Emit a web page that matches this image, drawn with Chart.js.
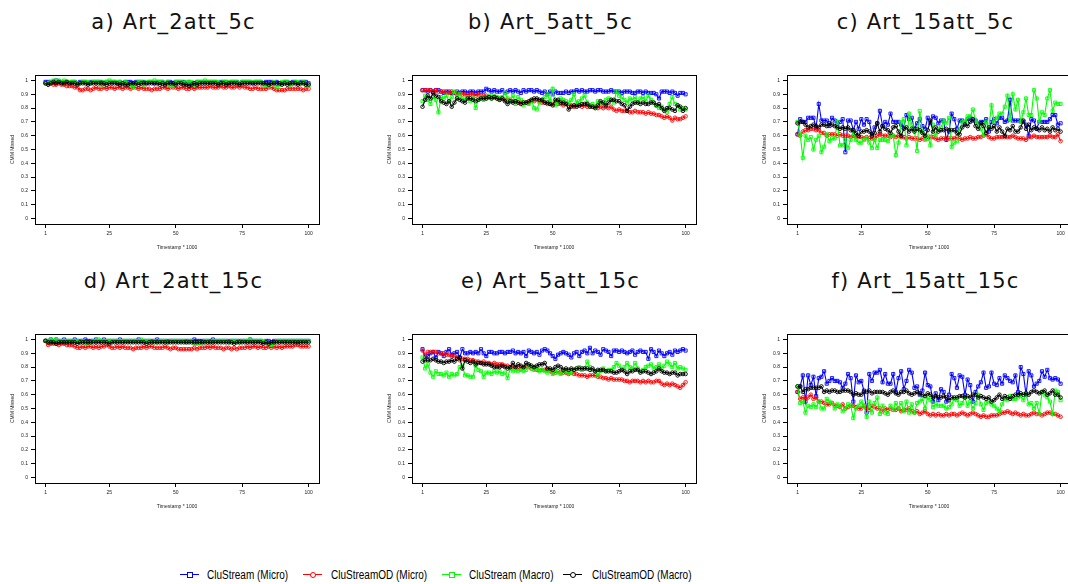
<!DOCTYPE html>
<html>
<head>
<meta charset="utf-8">
<title>CMM Missed</title>
<script src="https://cdn.jsdelivr.net/npm/chart.js@4.4.1/dist/chart.umd.min.js"></script>
<style>
  html, body { margin: 0; padding: 0; background: #fff; }
  body { width: 1068px; height: 584px; position: relative; overflow: hidden; }
  .panel-title {
    position: absolute; width: 300px; margin-left: -150px; text-align: center;
    font-family: "DejaVu Sans", sans-serif; font-size: 21px; line-height: 24px;
    letter-spacing: 1.2px; color: #111; white-space: nowrap;
  }
  .legend-sym { position: absolute; top: 574px; height: 1px; }
  .legend-mark { position: absolute; left: 50%; top: -2px; width: 4px; height: 4px; margin-left: -3px; border: 1px solid; background: #fff; }
  .legend-text {
    position: absolute; top: 567px; font-family: "Liberation Sans", Arial, sans-serif;
    font-size: 12.5px; line-height: 16px; color: #000; white-space: nowrap;
    transform: scaleX(0.8); transform-origin: left center;
  }
</style>
</head>
<body>
<script>
// x axis: Timestamp * 1000
const timestamps = Array.from({ length: 100 }, (_, i) => i + 1);
const xTicks = [1, 25, 50, 75, 100];
const yTicks = [0, 0.1, 0.2, 0.3, 0.4, 0.5, 0.6, 0.7, 0.8, 0.9, 1];

const seriesNames = ['CluStream (Micro)', 'CluStreamOD (Micro)', 'CluStream (Macro)', 'CluStreamOD (Macro)'];

// a) Art_2att_5c
const blueA = [0.99,0.99,0.99,0.99,1.00,0.99,0.99,0.99,0.99,0.98, 0.99,0.99,0.98,0.99,0.99,0.99,0.98,0.99,0.99,0.99, 0.99,0.99,0.98,0.99,0.99,0.99,0.99,0.98,0.99,0.98, 0.99,0.99,0.99,0.98,0.99,0.99,0.99,0.99,0.98,0.99, 0.99,0.98,0.99,0.99,0.99,0.98,0.99,0.99,0.98,0.99, 0.99,0.99,0.99,0.98,0.99,0.98,0.98,0.99,0.99,0.99, 0.99,0.99,0.99,0.99,0.99,0.98,0.99,0.99,0.99,0.98, 0.99,0.99,0.99,0.98,0.99,0.99,0.99,0.99,0.98,0.99, 0.99,0.99,0.98,0.99,0.99,0.99,0.98,0.99,0.98,0.98, 0.99,0.99,0.98,0.99,0.99,0.98,0.99,0.99,0.99,0.98];
const redA = [0.98,0.97,0.98,0.97,0.97,0.98,0.97,0.97,0.96,0.96, 0.96,0.95,0.95,0.93,0.93,0.94,0.94,0.93,0.94,0.95, 0.94,0.94,0.95,0.94,0.95,0.95,0.94,0.95,0.95,0.94, 0.95,0.95,0.94,0.95,0.95,0.94,0.95,0.94,0.94,0.94, 0.93,0.94,0.94,0.94,0.95,0.95,0.94,0.95,0.95,0.95, 0.94,0.95,0.95,0.94,0.94,0.95,0.94,0.95,0.95,0.95, 0.95,0.95,0.96,0.95,0.95,0.95,0.96,0.95,0.95,0.96, 0.95,0.95,0.96,0.95,0.96,0.95,0.95,0.94,0.94,0.95, 0.94,0.94,0.94,0.94,0.95,0.95,0.94,0.93,0.93,0.93, 0.93,0.94,0.94,0.94,0.94,0.94,0.94,0.93,0.94,0.94];
const greenA = [0.98,0.98,0.99,1.00,0.99,1.00,0.99,1.00,0.99,0.99, 0.99,0.99,0.98,0.98,0.99,0.99,0.99,0.98,0.99,0.99, 0.99,0.96,0.99,0.99,1.00,0.99,0.99,0.99,0.99,0.98, 0.99,0.98,0.97,0.95,0.98,0.99,0.99,0.97,0.99,0.99, 0.99,1.00,0.99,0.99,0.99,0.98,0.99,0.96,0.96,0.99, 0.99,0.99,0.98,0.99,0.99,0.99,0.97,0.99,0.99,0.99, 1.00,0.99,0.99,0.99,0.99,0.99,0.98,0.99,0.99,0.99, 0.99,0.99,0.99,0.98,0.99,0.99,0.99,0.99,0.99,0.99, 0.99,0.99,0.96,0.97,0.96,0.98,0.99,0.95,0.97,0.99, 0.99,0.99,0.97,0.98,0.99,0.99,0.98,0.99,0.97,0.96];
const blackA = [0.98,0.97,0.98,0.99,0.98,0.99,0.98,0.98,0.99,0.98, 0.98,0.98,0.97,0.98,0.98,0.98,0.97,0.98,0.98,0.98, 0.98,0.98,0.98,0.97,0.98,0.98,0.98,0.98,0.97,0.98, 0.97,0.97,0.98,0.98,0.98,0.97,0.98,0.98,0.98,0.98, 0.98,0.98,0.98,0.97,0.98,0.97,0.98,0.98,0.98,0.97, 0.98,0.98,0.97,0.97,0.96,0.97,0.98,0.97,0.98,0.98, 0.98,0.98,0.98,0.98,0.98,0.97,0.98,0.98,0.97,0.98, 0.98,0.98,0.98,0.97,0.98,0.98,0.98,0.98,0.98,0.98, 0.98,0.98,0.98,0.98,0.97,0.98,0.98,0.98,0.98,0.97, 0.98,0.97,0.98,0.98,0.98,0.97,0.98,0.98,0.97,0.97];

// b) Art_5att_5c
const blueB = [0.93,0.93,0.92,0.93,0.92,0.93,0.93,0.92,0.91,0.92, 0.92,0.91,0.91,0.92,0.91,0.92,0.92,0.91,0.92,0.92, 0.91,0.92,0.92,0.92,0.94,0.93,0.92,0.93,0.92,0.92, 0.93,0.91,0.92,0.93,0.92,0.93,0.92,0.91,0.93,0.92, 0.93,0.93,0.92,0.93,0.92,0.91,0.92,0.90,0.92,0.90, 0.92,0.91,0.91,0.91,0.92,0.91,0.92,0.92,0.93,0.92, 0.93,0.92,0.92,0.93,0.93,0.92,0.93,0.93,0.92,0.92, 0.92,0.93,0.92,0.92,0.92,0.91,0.92,0.92,0.92,0.91, 0.91,0.92,0.92,0.91,0.92,0.91,0.91,0.91,0.90,0.87, 0.92,0.92,0.92,0.91,0.92,0.91,0.89,0.91,0.91,0.90];
const redB = [0.93,0.93,0.93,0.93,0.92,0.93,0.92,0.92,0.92,0.91, 0.91,0.92,0.91,0.90,0.91,0.90,0.90,0.89,0.90,0.90, 0.89,0.90,0.89,0.89,0.89,0.88,0.88,0.88,0.87,0.87, 0.87,0.86,0.86,0.86,0.85,0.85,0.84,0.84,0.84,0.84, 0.84,0.85,0.85,0.86,0.85,0.84,0.84,0.83,0.83,0.83, 0.84,0.83,0.83,0.82,0.83,0.82,0.82,0.81,0.82,0.82, 0.81,0.82,0.81,0.82,0.81,0.81,0.80,0.81,0.80,0.81, 0.80,0.81,0.79,0.78,0.79,0.78,0.78,0.78,0.77,0.77, 0.78,0.77,0.77,0.77,0.76,0.77,0.76,0.76,0.75,0.75, 0.74,0.73,0.74,0.73,0.71,0.73,0.72,0.72,0.73,0.74];
const greenB = [0.85,0.89,0.86,0.83,0.88,0.86,0.77,0.88,0.87,0.89, 0.85,0.88,0.92,0.88,0.90,0.87,0.86,0.88,0.85,0.87, 0.80,0.86,0.88,0.86,0.87,0.89,0.87,0.89,0.88,0.86, 0.88,0.91,0.87,0.85,0.89,0.83,0.88,0.86,0.82,0.84, 0.83,0.86,0.80,0.79,0.84,0.86,0.88,0.90,0.85,0.94, 0.82,0.84,0.87,0.86,0.85,0.84,0.86,0.90,0.84,0.85, 0.87,0.89,0.84,0.82,0.83,0.81,0.85,0.84,0.83,0.86, 0.87,0.86,0.84,0.92,0.89,0.88,0.86,0.84,0.87,0.86, 0.88,0.84,0.87,0.88,0.85,0.89,0.86,0.84,0.82,0.80, 0.81,0.79,0.77,0.83,0.88,0.83,0.82,0.79,0.80,0.79];
const blackB = [0.81,0.86,0.89,0.87,0.91,0.89,0.88,0.85,0.84,0.83, 0.85,0.81,0.84,0.87,0.86,0.85,0.84,0.87,0.87,0.86, 0.85,0.86,0.87,0.87,0.87,0.88,0.87,0.88,0.87,0.86, 0.87,0.85,0.83,0.85,0.84,0.85,0.84,0.83,0.84,0.84, 0.85,0.86,0.87,0.87,0.86,0.86,0.84,0.84,0.83,0.82, 0.86,0.86,0.84,0.84,0.83,0.79,0.81,0.82,0.81,0.82, 0.83,0.83,0.83,0.81,0.81,0.80,0.82,0.85,0.84,0.82, 0.84,0.86,0.86,0.85,0.85,0.83,0.82,0.78,0.81,0.83, 0.84,0.84,0.83,0.84,0.83,0.83,0.84,0.84,0.82,0.83, 0.80,0.78,0.80,0.80,0.79,0.78,0.82,0.81,0.78,0.80];

// c) Art_15att_5c
const blueC = [0.61,0.72,0.70,0.70,0.73,0.73,0.73,0.66,0.83,0.71, 0.71,0.71,0.67,0.73,0.71,0.68,0.70,0.72,0.48,0.71, 0.71,0.64,0.70,0.65,0.72,0.68,0.72,0.70,0.61,0.66, 0.69,0.78,0.67,0.70,0.68,0.76,0.70,0.70,0.70,0.68, 0.66,0.75,0.72,0.73,0.65,0.69,0.72,0.67,0.65,0.73, 0.69,0.74,0.73,0.69,0.71,0.71,0.57,0.63,0.76,0.72, 0.65,0.71,0.71,0.69,0.72,0.73,0.71,0.71,0.69,0.70, 0.70,0.72,0.63,0.70,0.72,0.69,0.73,0.73,0.70,0.71, 0.86,0.71,0.71,0.71,0.71,0.70,0.68,0.60,0.72,0.71, 0.65,0.70,0.70,0.70,0.70,0.72,0.75,0.75,0.68,0.69];
const redC = [0.61,0.60,0.63,0.64,0.64,0.65,0.65,0.64,0.64,0.62, 0.62,0.60,0.61,0.61,0.61,0.60,0.61,0.60,0.60,0.60, 0.59,0.60,0.59,0.59,0.59,0.58,0.59,0.58,0.58,0.58, 0.60,0.61,0.60,0.60,0.60,0.59,0.60,0.59,0.60,0.59, 0.59,0.58,0.59,0.58,0.58,0.58,0.57,0.58,0.58,0.58, 0.59,0.59,0.58,0.57,0.58,0.58,0.58,0.58,0.58,0.58, 0.59,0.58,0.57,0.58,0.58,0.59,0.58,0.58,0.59,0.59, 0.60,0.61,0.59,0.58,0.58,0.59,0.59,0.59,0.59,0.59, 0.59,0.60,0.59,0.58,0.58,0.58,0.57,0.59,0.59,0.60, 0.59,0.59,0.59,0.59,0.59,0.60,0.59,0.59,0.61,0.56];
const greenC = [0.70,0.61,0.44,0.60,0.57,0.59,0.50,0.57,0.60,0.48, 0.52,0.61,0.56,0.58,0.58,0.70,0.53,0.53,0.57,0.51, 0.57,0.63,0.57,0.55,0.55,0.57,0.58,0.55,0.51,0.57, 0.51,0.57,0.57,0.57,0.56,0.60,0.60,0.46,0.55,0.70, 0.72,0.53,0.76,0.68,0.64,0.49,0.78,0.63,0.57,0.60, 0.53,0.68,0.60,0.65,0.66,0.71,0.69,0.73,0.52,0.55, 0.56,0.65,0.70,0.70,0.74,0.74,0.79,0.71,0.69,0.65, 0.60,0.70,0.66,0.82,0.70,0.73,0.76,0.76,0.81,0.89, 0.72,0.90,0.79,0.86,0.70,0.77,0.87,0.75,0.75,0.93, 0.87,0.70,0.77,0.75,0.87,0.93,0.78,0.84,0.83,0.83];
const blackC = [0.69,0.70,0.70,0.68,0.66,0.67,0.68,0.67,0.66,0.68, 0.68,0.67,0.69,0.68,0.67,0.66,0.65,0.66,0.65,0.66, 0.64,0.64,0.62,0.60,0.63,0.63,0.64,0.63,0.60,0.62, 0.69,0.63,0.67,0.65,0.64,0.62,0.66,0.67,0.63,0.60, 0.65,0.66,0.63,0.65,0.63,0.65,0.64,0.62,0.60,0.64, 0.71,0.63,0.66,0.63,0.64,0.64,0.65,0.64,0.64,0.64, 0.62,0.61,0.66,0.68,0.67,0.70,0.72,0.67,0.65,0.69, 0.67,0.62,0.66,0.65,0.67,0.63,0.66,0.63,0.60,0.65, 0.64,0.67,0.63,0.63,0.66,0.71,0.65,0.68,0.64,0.66, 0.65,0.64,0.66,0.64,0.65,0.63,0.66,0.64,0.65,0.63];

// d) Art_2att_15c
const blueD = [0.99,0.99,1.00,0.99,1.00,0.99,0.99,1.00,0.99,0.99, 0.99,1.00,0.99,0.99,0.99,1.00,0.99,0.99,0.99,1.00, 0.99,0.99,1.00,0.99,0.99,0.99,0.99,0.99,1.00,0.99, 0.99,0.99,0.99,0.99,0.99,1.00,0.99,0.99,0.99,0.99, 0.99,0.99,1.00,0.99,0.99,0.99,0.99,0.99,0.99,0.99, 0.99,0.99,0.99,0.99,0.99,0.99,1.00,0.99,0.99,0.99, 0.99,0.99,0.99,1.00,0.99,0.99,0.99,0.99,0.99,0.99, 0.99,0.99,0.99,0.99,0.99,0.99,0.99,1.00,0.99,0.99, 0.99,0.99,0.98,0.99,0.99,0.98,0.99,0.99,0.99,0.99, 0.99,0.99,0.99,0.99,0.99,0.99,0.99,0.99,0.99,0.99];
const redD = [0.99,0.96,0.97,0.97,0.97,0.96,0.97,0.97,0.96,0.96, 0.96,0.95,0.94,0.94,0.95,0.94,0.95,0.95,0.94,0.95, 0.94,0.95,0.95,0.96,0.95,0.94,0.94,0.95,0.94,0.95, 0.94,0.94,0.94,0.93,0.94,0.94,0.94,0.95,0.94,0.95, 0.95,0.94,0.94,0.94,0.94,0.95,0.94,0.93,0.94,0.94, 0.93,0.93,0.93,0.93,0.93,0.93,0.94,0.93,0.94,0.94, 0.94,0.95,0.94,0.95,0.94,0.94,0.94,0.93,0.94,0.94, 0.93,0.94,0.93,0.94,0.94,0.94,0.95,0.94,0.95,0.95, 0.94,0.95,0.94,0.94,0.95,0.94,0.95,0.94,0.95,0.94, 0.95,0.95,0.95,0.95,0.96,0.96,0.95,0.95,0.95,0.95];
const greenD = [0.99,0.99,1.00,0.99,1.00,0.99,0.99,0.99,0.99,0.99, 0.99,0.99,0.99,0.98,0.99,0.98,0.97,0.98,0.99,0.99, 1.00,0.99,0.99,0.99,0.99,0.99,0.99,0.99,0.99,0.99, 0.99,0.99,0.99,0.99,0.99,0.99,1.00,0.99,0.99,0.99, 0.98,0.99,0.98,0.99,0.99,0.99,0.98,0.99,0.99,0.99, 0.99,0.99,0.99,0.98,0.99,0.99,0.97,0.97,0.98,0.97, 0.99,0.99,0.98,0.99,0.99,0.99,0.99,0.99,0.99,0.98, 0.99,0.99,0.99,0.98,0.99,0.99,0.99,1.00,0.99,0.99, 0.99,0.99,0.99,0.98,0.97,0.96,0.97,0.99,0.99,0.99, 0.99,0.99,0.99,0.99,0.99,0.99,0.99,0.99,0.99,0.99];
const blackD = [0.99,0.98,0.98,0.98,0.97,0.98,0.98,0.98,0.98,0.98, 0.98,0.98,0.97,0.98,0.98,0.98,0.98,0.98,0.98,0.98, 0.98,0.98,0.98,0.98,0.97,0.98,0.98,0.98,0.98,0.98, 0.98,0.98,0.98,0.98,0.98,0.98,0.98,0.98,0.97,0.98, 0.98,0.98,0.98,0.98,0.98,0.98,0.98,0.98,0.98,0.98, 0.98,0.98,0.98,0.98,0.98,0.98,0.98,0.98,0.98,0.98, 0.98,0.98,0.98,0.98,0.98,0.98,0.98,0.98,0.98,0.98, 0.98,0.97,0.98,0.98,0.98,0.98,0.98,0.98,0.98,0.98, 0.98,0.98,0.97,0.98,0.97,0.98,0.98,0.98,0.98,0.98, 0.98,0.98,0.98,0.98,0.98,0.98,0.98,0.98,0.98,0.98];

// e) Art_5att_15c
const blueE = [0.93,0.87,0.88,0.90,0.91,0.87,0.91,0.90,0.88,0.91, 0.93,0.89,0.90,0.91,0.87,0.93,0.90,0.90,0.91,0.90, 0.91,0.90,0.93,0.90,0.88,0.91,0.91,0.90,0.90,0.91, 0.91,0.90,0.91,0.91,0.92,0.90,0.91,0.90,0.91,0.88, 0.92,0.91,0.90,0.91,0.89,0.92,0.93,0.92,0.90,0.88, 0.86,0.89,0.90,0.91,0.90,0.89,0.87,0.90,0.91,0.88, 0.91,0.92,0.90,0.94,0.90,0.92,0.91,0.89,0.93,0.92, 0.91,0.88,0.92,0.92,0.91,0.92,0.91,0.90,0.91,0.92, 0.89,0.91,0.92,0.91,0.91,0.86,0.93,0.91,0.88,0.92, 0.90,0.88,0.90,0.91,0.89,0.92,0.91,0.92,0.93,0.92];
const redE = [0.92,0.89,0.91,0.91,0.91,0.91,0.90,0.90,0.90,0.89, 0.89,0.88,0.88,0.87,0.85,0.86,0.86,0.86,0.85,0.85, 0.84,0.84,0.83,0.84,0.83,0.83,0.82,0.83,0.82,0.82, 0.82,0.81,0.81,0.80,0.80,0.80,0.79,0.79,0.80,0.80, 0.80,0.79,0.79,0.78,0.78,0.78,0.78,0.78,0.77,0.76, 0.76,0.77,0.76,0.76,0.76,0.75,0.76,0.75,0.75,0.74, 0.74,0.74,0.73,0.74,0.74,0.74,0.73,0.73,0.72,0.72, 0.71,0.72,0.71,0.71,0.71,0.71,0.70,0.70,0.69,0.70, 0.70,0.70,0.69,0.70,0.69,0.70,0.69,0.69,0.70,0.70, 0.68,0.67,0.68,0.67,0.68,0.67,0.66,0.65,0.67,0.69];
const greenE = [0.87,0.79,0.82,0.76,0.73,0.77,0.75,0.75,0.74,0.76, 0.73,0.75,0.74,0.75,0.80,0.81,0.74,0.74,0.73,0.73, 0.81,0.78,0.77,0.73,0.76,0.76,0.75,0.77,0.76,0.77, 0.75,0.76,0.72,0.79,0.77,0.78,0.77,0.78,0.77,0.78, 0.81,0.79,0.78,0.79,0.77,0.78,0.77,0.76,0.78,0.75, 0.78,0.76,0.75,0.78,0.77,0.76,0.76,0.78,0.79,0.80, 0.78,0.79,0.84,0.80,0.78,0.77,0.74,0.77,0.79,0.77, 0.78,0.78,0.80,0.83,0.81,0.78,0.80,0.83,0.80,0.79, 0.83,0.79,0.77,0.78,0.80,0.81,0.82,0.79,0.80,0.82, 0.79,0.81,0.84,0.82,0.80,0.83,0.79,0.80,0.79,0.78];
const blackE = [0.84,0.85,0.85,0.85,0.86,0.85,0.84,0.84,0.83,0.84, 0.84,0.85,0.84,0.86,0.87,0.79,0.85,0.84,0.83,0.84, 0.82,0.83,0.83,0.82,0.82,0.82,0.81,0.80,0.80,0.80, 0.81,0.80,0.79,0.80,0.83,0.80,0.82,0.81,0.80,0.83, 0.82,0.81,0.80,0.81,0.82,0.82,0.83,0.79,0.79,0.78, 0.80,0.81,0.80,0.78,0.79,0.78,0.79,0.78,0.79,0.79, 0.79,0.79,0.79,0.78,0.79,0.77,0.78,0.78,0.78,0.77, 0.77,0.77,0.76,0.76,0.77,0.78,0.77,0.75,0.77,0.77, 0.78,0.78,0.76,0.77,0.77,0.76,0.75,0.76,0.77,0.79, 0.77,0.76,0.76,0.75,0.76,0.76,0.74,0.75,0.75,0.75];

// f) Art_15att_15c
const blueF = [0.62,0.66,0.74,0.55,0.74,0.67,0.73,0.59,0.72,0.73, 0.77,0.68,0.70,0.72,0.70,0.70,0.69,0.65,0.68,0.75, 0.72,0.55,0.74,0.69,0.70,0.63,0.47,0.75,0.70,0.76, 0.76,0.78,0.69,0.75,0.68,0.68,0.75,0.62,0.72,0.77, 0.64,0.70,0.78,0.76,0.65,0.66,0.60,0.63,0.76,0.67, 0.66,0.55,0.61,0.56,0.64,0.62,0.55,0.60,0.75,0.72, 0.65,0.74,0.73,0.60,0.71,0.67,0.55,0.62,0.66,0.69, 0.76,0.65,0.66,0.76,0.68,0.67,0.72,0.68,0.74,0.72, 0.70,0.69,0.74,0.62,0.80,0.75,0.60,0.77,0.74,0.66, 0.68,0.70,0.77,0.73,0.78,0.72,0.71,0.72,0.71,0.68];
const redF = [0.62,0.57,0.58,0.57,0.58,0.60,0.57,0.58,0.55,0.55, 0.54,0.53,0.53,0.54,0.52,0.52,0.51,0.53,0.50,0.51, 0.52,0.52,0.51,0.50,0.50,0.52,0.50,0.49,0.52,0.51, 0.50,0.50,0.48,0.50,0.49,0.50,0.49,0.49,0.50,0.48, 0.49,0.49,0.50,0.48,0.47,0.48,0.46,0.47,0.48,0.46, 0.45,0.46,0.45,0.46,0.45,0.45,0.46,0.45,0.46,0.46, 0.45,0.46,0.47,0.46,0.45,0.46,0.47,0.46,0.45,0.44, 0.45,0.44,0.44,0.45,0.45,0.45,0.46,0.47,0.47,0.48, 0.47,0.46,0.47,0.46,0.45,0.46,0.45,0.45,0.46,0.47, 0.46,0.46,0.45,0.46,0.47,0.47,0.46,0.46,0.45,0.44];
const greenF = [0.66,0.54,0.55,0.47,0.52,0.51,0.53,0.51,0.55,0.50, 0.50,0.57,0.55,0.54,0.50,0.53,0.52,0.48,0.50,0.53, 0.52,0.43,0.50,0.52,0.55,0.52,0.44,0.55,0.47,0.54, 0.58,0.46,0.52,0.47,0.46,0.52,0.49,0.54,0.50,0.54, 0.48,0.55,0.47,0.53,0.47,0.54,0.55,0.57,0.50,0.58, 0.56,0.51,0.53,0.52,0.52,0.52,0.50,0.51,0.53,0.57, 0.56,0.52,0.54,0.58,0.52,0.55,0.50,0.54,0.60,0.53, 0.49,0.54,0.55,0.53,0.52,0.50,0.48,0.53,0.57,0.56, 0.59,0.57,0.57,0.58,0.59,0.56,0.61,0.53,0.54,0.50, 0.54,0.46,0.62,0.60,0.58,0.55,0.46,0.63,0.62,0.56];
const blackF = [0.66,0.66,0.62,0.64,0.64,0.65,0.65,0.65,0.65,0.66, 0.62,0.63,0.62,0.63,0.63,0.62,0.62,0.63,0.63,0.63, 0.62,0.60,0.61,0.60,0.60,0.62,0.62,0.63,0.61,0.62, 0.62,0.62,0.62,0.61,0.60,0.62,0.63,0.61,0.60,0.62, 0.62,0.63,0.61,0.60,0.61,0.62,0.61,0.60,0.59,0.61, 0.60,0.58,0.59,0.58,0.58,0.59,0.58,0.56,0.58,0.58, 0.58,0.59,0.59,0.58,0.59,0.58,0.60,0.60,0.58,0.59, 0.58,0.57,0.58,0.55,0.56,0.58,0.60,0.57,0.59,0.58, 0.57,0.59,0.60,0.60,0.61,0.60,0.61,0.60,0.62,0.63, 0.62,0.61,0.62,0.63,0.60,0.61,0.63,0.60,0.60,0.58];

// styles per series (same order as seriesNames)
const seriesColors = ['#0000ff', '#ff0000', '#00ff00', '#000000'];
const seriesShapes = ['rect', 'circle', 'rect', 'circle'];

// panel layout: plot box [left, top, right, bottom] in page pixels
const panels = [
    { title: 'a) Art_2att_5c',   box: [35, 75, 320, 224],   series: [blueA, redA, greenA, blackA] },
    { title: 'b) Art_5att_5c',   box: [412, 75, 697, 224],  series: [blueB, redB, greenB, blackB] },
    { title: 'c) Art_15att_5c',  box: [787, 75, 1072, 224], series: [blueC, redC, greenC, blackC] },
    { title: 'd) Art_2att_15c',  box: [35, 334, 320, 483],  series: [blueD, redD, greenD, blackD] },
    { title: 'e) Art_5att_15c',  box: [412, 334, 697, 483], series: [blueE, redE, greenE, blackE] },
    { title: 'f) Art_15att_15c', box: [787, 334, 1072, 483], series: [blueF, redF, greenF, blackF] }
];

// R-style box around the plot region
const plotBox = {
    id: 'plotBox',
    afterDatasetsDraw(chart) {
        const { ctx, chartArea: a } = chart;
        ctx.save();
        ctx.strokeStyle = '#000';
        ctx.lineWidth = 1;
        ctx.strokeRect(Math.round(a.left) + 0.5, Math.round(a.top) + 0.5,
            Math.round(a.right - a.left), Math.round(a.bottom - a.top));
        ctx.restore();
    }
};

// 4% padding on each side like R's default axis range
function padRange(lo, hi) {
    const d = (hi - lo) * 0.04;
    return [lo - d, hi + d];
}

const tickFont = { family: 'Liberation Sans, Arial, sans-serif', size: 5 };

function drawPanel(p) {
    const [L, T, R, B] = p.box;
    const w = (R - L) + 44;
    const h = (B - T) + 38;

    const title = document.createElement('div');
    title.className = 'panel-title';
    title.textContent = p.title;
    title.style.left = ((L + R) / 2 - 4) + 'px';
    title.style.top = (T - 65) + 'px';
    document.body.appendChild(title);

    const canvas = document.createElement('canvas');
    canvas.width = w;
    canvas.height = h;
    canvas.style.cssText = `position:absolute;left:${L - 40}px;top:${T - 8}px;width:${w}px;height:${h}px;`;
    document.body.appendChild(canvas);

    const [xMin, xMax] = padRange(xTicks[0], xTicks[xTicks.length - 1]);
    const [yMin, yMax] = padRange(yTicks[0], yTicks[yTicks.length - 1]);

    new Chart(canvas, {
        type: 'line',
        data: {
            labels: timestamps,
            datasets: p.series.map((vals, i) => ({
                label: seriesNames[i],
                data: vals,
                borderColor: seriesColors[i],
                borderWidth: 1.1,
                pointStyle: seriesShapes[i],
                pointRadius: seriesShapes[i] === 'rect' ? 2.2 : 1.8,
                pointBorderWidth: 0.9,
                pointBorderColor: seriesColors[i],
                pointBackgroundColor: 'rgba(0,0,0,0)',
                tension: 0,
                order: 4 - i
            }))
        },
        options: {
            responsive: false,
            animation: false,
            devicePixelRatio: 1,
            events: [],
            layout: { padding: { left: 15, top: 8, right: 4, bottom: 0 } },
            plugins: {
                legend: { display: false },
                tooltip: { enabled: false }
            },
            scales: {
                x: {
                    type: 'linear',
                    min: xMin,
                    max: xMax,
                    afterBuildTicks: s => { s.ticks = xTicks.map(v => ({ value: v })); },
                    afterFit: s => { s.height = 30; },
                    grid: { drawOnChartArea: false, drawTicks: true, tickLength: 4, color: '#000', lineWidth: 1 },
                    border: { display: false },
                    ticks: { font: tickFont, color: '#222', padding: 3, maxRotation: 0, autoSkip: false,
                             callback: v => String(v) },
                    title: { display: true, text: 'Timestamp * 1000', font: tickFont, color: '#222',
                             padding: { top: 0, bottom: 3 } }
                },
                y: {
                    min: yMin,
                    max: yMax,
                    afterBuildTicks: s => { s.ticks = yTicks.map(v => ({ value: v })); },
                    afterFit: s => { s.width = 25; },
                    grid: { drawOnChartArea: false, drawTicks: true, tickLength: 4, color: '#000', lineWidth: 1 },
                    border: { display: false },
                    ticks: { font: tickFont, color: '#222', padding: 3, autoSkip: false,
                             callback: v => String(+v.toFixed(1)) },
                    title: { display: true, text: 'CMM Missed', font: tickFont, color: '#222', padding: 0 }
                }
            }
        },
        plugins: [plotBox]
    });
}

panels.forEach(drawPanel);

// shared legend at the bottom
const legendPos = [[180, 207], [303, 331], [442, 469], [563, 592]];
seriesNames.forEach((name, i) => {
    const [symX, textX] = legendPos[i];
    const sym = document.createElement('div');
    sym.className = 'legend-sym';
    sym.style.left = symX + 'px';
    sym.style.width = '19px';
    sym.style.background = seriesColors[i];
    const mark = document.createElement('div');
    mark.className = 'legend-mark';
    mark.style.borderColor = seriesColors[i];
    if (seriesShapes[i] === 'circle') mark.style.borderRadius = '50%';
    sym.appendChild(mark);
    document.body.appendChild(sym);

    const text = document.createElement('div');
    text.className = 'legend-text';
    text.style.left = textX + 'px';
    text.textContent = name;
    document.body.appendChild(text);
});
</script>
</body>
</html>
